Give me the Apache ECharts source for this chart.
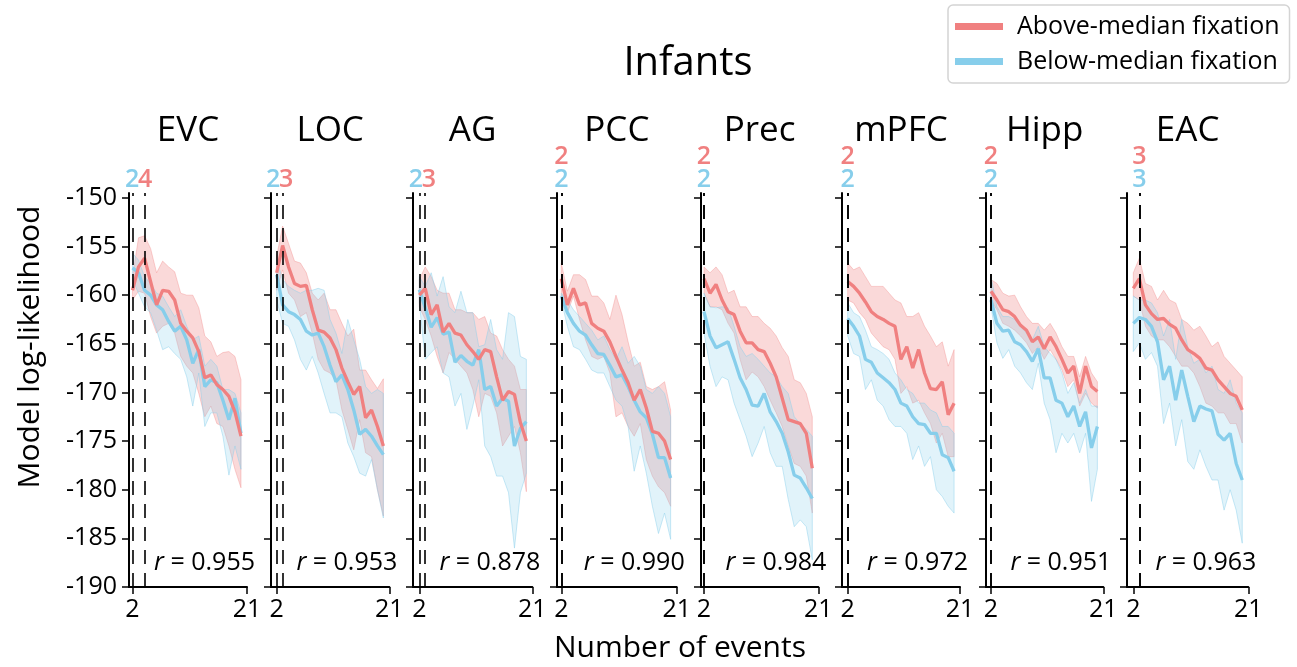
<!DOCTYPE html>
<html>
<head>
<meta charset="utf-8">
<script src="https://cdn.jsdelivr.net/npm/echarts@6/dist/echarts.min.js"></script>
<style>
html,body{margin:0;padding:0;background:#fff;}
#chart{width:1297px;height:667px;}
</style>
</head>
<body>
<div id="chart"></div>
<script>
// data
var regions = ['EVC', 'LOC', 'AG', 'PCC', 'Prec', 'mPFC', 'Hipp', 'EAC'];
var events = [2, 3, 4, 5, 6, 7, 8, 9, 10, 11, 12, 13, 14, 15, 16, 17, 18, 19, 20];
var rValues = ['0.955', '0.953', '0.878', '0.990', '0.984', '0.972', '0.951', '0.963'];
var bestAbove = [4, 3, 3, 2, 2, 2, 2, 3];
var bestBelow = [2, 2, 2, 2, 2, 2, 2, 3];
var xTicks = [2, 21];
var yTicks = [-190, -185, -180, -175, -170, -165, -160, -155, -150];

var aboveMean = [
  [-159.5,-157.1,-156.2,-158.6,-161.0,-159.5,-159.6,-160.5,-162.9,-163.7,-164.4,-165.8,-168.5,-168.2,-169.2,-169.7,-170.4,-172.0,-174.5],
  [-157.7,-154.9,-157.1,-158.8,-159.1,-159.0,-161.5,-163.6,-163.8,-164.4,-165.6,-167.5,-168.9,-170.2,-169.4,-172.6,-171.8,-173.5,-175.5],
  [-160.0,-159.3,-162.0,-161.0,-163.8,-162.9,-163.9,-164.1,-165.1,-165.8,-166.6,-165.6,-165.8,-168.4,-170.8,-169.9,-170.2,-173.1,-175.0],
  [-158.3,-161.0,-159.3,-161.0,-160.8,-162.9,-163.4,-163.7,-164.8,-166.3,-167.7,-169.0,-170.8,-169.7,-171.6,-174.0,-174.2,-175.0,-176.9],
  [-158.3,-159.8,-158.9,-160.5,-161.7,-162.0,-163.7,-164.9,-164.9,-165.6,-165.8,-167.0,-168.4,-170.6,-172.8,-173.0,-173.2,-174.2,-177.8],
  [-158.6,-159.1,-159.8,-160.7,-161.7,-162.2,-162.5,-162.9,-163.2,-166.6,-165.3,-167.5,-165.6,-168.0,-169.6,-169.7,-168.9,-172.3,-171.1],
  [-159.6,-160.5,-161.5,-161.7,-162.2,-163.1,-163.6,-164.8,-164.3,-165.5,-164.3,-165.3,-166.6,-168.0,-167.3,-170.1,-167.3,-169.4,-169.9],
  [-159.3,-158.3,-161.0,-161.9,-162.5,-162.4,-163.0,-163.4,-164.6,-165.6,-166.0,-166.5,-167.5,-167.7,-168.7,-169.4,-170.1,-170.4,-171.8]
];
var aboveHigh = [
  [-158.1,-154.1,-153.9,-155.2,-157.7,-156.5,-157.1,-157.6,-159.8,-160.0,-160.0,-161.3,-164.2,-164.8,-166.3,-165.9,-165.8,-166.3,-168.7],
  [-156.0,-152.9,-154.7,-156.5,-156.7,-157.7,-159.8,-160.5,-159.8,-161.5,-161.5,-162.9,-164.2,-163.5,-167.7,-167.7,-168.7,-169.6,-168.6],
  [-158.4,-157.1,-158.1,-159.5,-159.8,-159.8,-161.5,-161.5,-161.8,-161.8,-162.5,-162.2,-163.9,-164.2,-165.6,-166.6,-167.3,-169.7,-169.7],
  [-156.7,-159.6,-157.9,-157.9,-158.4,-160.1,-160.1,-160.8,-162.5,-160.0,-162.0,-164.8,-167.3,-166.9,-169.4,-169.7,-169.4,-168.9,-171.8],
  [-157.1,-157.7,-157.1,-157.9,-159.8,-159.5,-161.2,-161.2,-162.2,-162.2,-162.9,-163.4,-164.2,-165.4,-166.3,-168.7,-169.0,-170.1,-172.5],
  [-156.7,-157.4,-157.1,-158.1,-159.1,-159.1,-159.1,-159.8,-160.5,-160.8,-162.2,-162.2,-161.8,-163.2,-164.2,-165.3,-164.8,-167.3,-165.6],
  [-158.4,-158.8,-159.8,-160.1,-160.0,-161.2,-162.2,-162.9,-162.9,-163.6,-162.9,-163.9,-165.3,-166.3,-166.3,-168.4,-166.3,-168.0,-168.9],
  [-157.7,-156.2,-158.8,-159.1,-160.5,-159.5,-160.5,-160.8,-162.5,-162.9,-163.6,-163.2,-164.2,-165.3,-164.8,-166.3,-167.0,-167.7,-168.4]
];
var aboveLow = [
  [-160.5,-159.6,-159.8,-162.2,-163.9,-163.2,-162.9,-163.9,-166.3,-167.3,-168.0,-170.1,-172.5,-171.4,-173.2,-173.5,-175.5,-177.9,-179.8],
  [-159.5,-157.4,-159.8,-160.5,-162.2,-161.8,-163.9,-166.6,-167.7,-168.0,-168.7,-171.8,-173.8,-175.9,-172.8,-176.2,-176.6,-180.0,-182.7],
  [-161.2,-162.5,-164.2,-166.3,-168.0,-165.9,-166.6,-167.3,-168.0,-169.7,-172.5,-170.1,-170.4,-172.1,-175.5,-174.5,-173.5,-176.2,-180.2],
  [-160.1,-161.8,-160.1,-162.5,-164.6,-166.3,-166.6,-166.3,-168.0,-172.5,-172.1,-173.5,-174.5,-173.2,-176.9,-178.6,-179.7,-180.3,-181.7],
  [-159.8,-161.2,-161.2,-161.5,-162.9,-163.9,-166.6,-168.7,-167.9,-168.4,-169.4,-170.8,-172.1,-173.5,-175.5,-177.3,-177.6,-178.6,-182.4],
  [-160.5,-160.8,-161.8,-162.5,-163.9,-164.6,-165.3,-165.6,-166.6,-170.1,-169.4,-171.1,-170.8,-172.1,-173.2,-175.2,-174.2,-176.6,-176.6],
  [-160.5,-161.5,-162.9,-163.2,-163.6,-164.2,-164.9,-166.0,-165.3,-166.6,-165.6,-166.6,-167.7,-169.4,-168.7,-171.4,-170.1,-171.1,-171.6],
  [-160.1,-160.5,-163.2,-164.2,-164.6,-164.6,-165.3,-166.3,-167.3,-167.3,-168.0,-169.4,-171.1,-171.4,-172.1,-172.1,-173.2,-173.2,-175.2]
];
var belowMean = [
  [-157.2,-157.7,-159.5,-160.0,-161.0,-161.5,-162.7,-163.7,-163.2,-164.6,-167.0,-165.6,-169.4,-168.7,-169.0,-170.8,-172.8,-170.6,-174.2],
  [-157.9,-161.0,-161.7,-162.0,-162.5,-163.7,-164.1,-163.9,-165.3,-167.2,-168.9,-168.2,-169.7,-171.8,-174.3,-173.8,-174.5,-175.5,-176.4],
  [-159.45,-161.3,-163.3,-162.3,-164.0,-163.8,-166.9,-166.2,-166.8,-167.2,-165.6,-169.7,-169.4,-171.4,-170.6,-170.9,-175.5,-173.7,-173.0],
  [-160.1,-161.8,-162.9,-163.7,-164.1,-165.1,-166.0,-166.1,-167.2,-168.4,-168.2,-169.4,-170.8,-172.0,-172.6,-174.3,-176.7,-176.7,-178.8],
  [-161.7,-164.2,-165.4,-165.1,-164.8,-166.6,-168.5,-169.7,-171.3,-171.4,-170.1,-172.0,-173.0,-174.2,-176.1,-178.5,-178.8,-179.8,-180.9],
  [-162.4,-163.2,-164.2,-166.6,-166.9,-168.0,-168.5,-169.0,-169.7,-171.1,-171.4,-172.5,-173.2,-173.3,-174.2,-174.2,-176.4,-176.7,-178.1],
  [-160.5,-162.9,-163.7,-163.6,-164.8,-165.1,-165.8,-166.8,-165.5,-168.5,-168.5,-170.8,-171.1,-172.5,-171.4,-173.5,-172.0,-175.7,-173.5],
  [-162.9,-162.3,-162.5,-163.2,-164.8,-168.7,-167.3,-170.8,-167.7,-170.4,-173.0,-171.4,-171.7,-171.9,-174.3,-174.9,-174.2,-177.3,-179.0]
];
var belowHigh = [
  [-155.7,-156.4,-158.1,-158.8,-159.8,-160.1,-161.2,-162.2,-161.5,-163.2,-164.6,-164.2,-167.3,-166.6,-167.3,-169.7,-169.7,-170.1,-172.1],
  [-156.4,-158.4,-159.1,-159.5,-159.8,-159.5,-159.5,-159.3,-159.5,-162.5,-163.9,-166.0,-162.5,-164.6,-166.6,-169.4,-170.1,-169.7,-170.1],
  [-158.1,-159.1,-157.7,-160.1,-158.1,-161.2,-161.8,-159.6,-161.8,-161.8,-165.3,-165.1,-162.5,-165.6,-166.6,-161.8,-162.2,-166.3,-166.6],
  [-159.8,-160.5,-161.5,-162.2,-162.9,-163.6,-164.6,-164.2,-165.6,-166.6,-165.3,-167.0,-166.3,-167.3,-169.7,-170.1,-169.4,-170.1,-172.5],
  [-159.8,-161.2,-161.3,-161.2,-161.3,-163.2,-165.3,-166.3,-166.0,-166.6,-167.3,-168.0,-168.4,-169.4,-170.1,-172.5,-173.2,-173.8,-174.5],
  [-160.8,-161.8,-162.2,-163.6,-165.3,-165.6,-166.0,-166.6,-168.0,-168.7,-169.7,-170.1,-171.1,-171.1,-171.8,-172.1,-173.5,-173.5,-174.2],
  [-158.1,-161.2,-162.2,-162.2,-162.5,-163.2,-163.9,-164.6,-163.2,-165.3,-166.0,-166.6,-168.0,-170.1,-169.0,-171.1,-169.7,-171.4,-171.4],
  [-160.1,-160.5,-160.5,-160.8,-161.8,-164.2,-162.5,-166.6,-162.5,-165.3,-167.0,-166.6,-168.0,-167.3,-169.7,-170.1,-168.7,-171.1,-172.1]
];
var belowLow = [
  [-158.4,-159.8,-161.2,-161.8,-163.6,-165.6,-165.3,-166.0,-166.6,-168.4,-171.4,-168.0,-173.5,-172.1,-172.1,-174.5,-178.5,-175.5,-177.9],
  [-160.5,-162.9,-163.2,-164.6,-166.6,-167.7,-166.3,-168.0,-170.1,-172.1,-172.1,-172.5,-175.2,-176.6,-178.3,-178.6,-176.9,-180.0,-182.9],
  [-160.8,-166.6,-165.9,-165.3,-168.0,-168.4,-171.4,-170.1,-173.8,-171.4,-168.7,-175.5,-176.6,-178.6,-178.6,-180.3,-186.0,-180.3,-178.3],
  [-160.5,-163.2,-165.3,-165.6,-166.6,-167.7,-168.0,-168.0,-169.4,-170.8,-171.4,-173.5,-178.1,-175.5,-178.3,-181.7,-184.5,-182.4,-185.1],
  [-163.9,-167.3,-169.4,-168.4,-168.7,-171.1,-172.8,-174.5,-176.6,-175.2,-173.5,-176.2,-177.6,-177.6,-181.0,-183.8,-183.1,-183.8,-187.2],
  [-164.2,-166.0,-166.3,-169.7,-168.7,-170.8,-171.4,-172.8,-173.5,-173.5,-174.2,-176.9,-175.5,-177.6,-176.6,-180.0,-180.7,-181.7,-182.4],
  [-161.2,-164.9,-166.5,-165.6,-167.3,-168.0,-169.0,-169.7,-167.0,-171.1,-172.8,-176.2,-174.2,-175.2,-174.2,-176.2,-174.2,-181.2,-177.9],
  [-165.8,-164.9,-166.6,-165.9,-167.3,-173.2,-171.1,-175.5,-172.8,-177.1,-177.9,-175.9,-177.6,-179.0,-179.0,-182.1,-180.0,-182.1,-185.5]
];

// layout (pixels): left spine, x=2 tick, x=21 tick
var gridLeft = [129, 271, 413, 557, 701, 842, 986, 1127];
var tick2Px = [132.5, 276.7, 419.3, 561.3, 704, 847.7, 991, 1133.3];
var tick21Px = [247, 389.3, 532.3, 676.7, 818.3, 960, 1103.3, 1248.3];
var gridTop = 193, gridBottomPx = 587, yMax = -149.5;

var FONT = "'Open Sans', sans-serif";
var RED = '#f08080', BLUE = '#87ceeb';
var RED_FILL = 'rgba(240,128,128,0.3)', BLUE_FILL = 'rgba(135,206,235,0.25)';
var RED_EDGE = 'rgba(240,128,128,0.35)', BLUE_EDGE = 'rgba(135,206,235,0.45)';

var chart = echarts.init(document.getElementById('chart'));

function pairs(arr) {
    return events.map(function (x, k) { return [x, arr[k]]; });
}

// one polygon per band: upper edge forward, lower edge back
function bandSeries(i, lo, hi, fill, edge) {
    return {
        type: 'custom', xAxisIndex: i, yAxisIndex: i, silent: true,
        data: events.map(function (x, k) { return [x, lo[k], hi[k]]; }),
        encode: {x: 0, y: [1, 2]},
        renderItem: function (params, api) {
            if (params.dataIndex !== 0) return null;
            var pts = [];
            for (var k = 0; k < events.length; k++) pts.push(api.coord([events[k], hi[k]]));
            for (var k2 = events.length - 1; k2 >= 0; k2--) pts.push(api.coord([events[k2], lo[k2]]));
            return {type: 'polygon', shape: {points: pts}, style: {fill: fill, stroke: edge, lineWidth: 1}};
        }
    };
}

var grids = [], xAxes = [], yAxes = [], series = [], graphics = [];

graphics.push({type: 'text', x: 688, y: 64, style: {text: 'Infants', fontSize: 40, fontFamily: FONT, fill: '#000',
    align: 'center', verticalAlign: 'middle', textAlign: 'center', textVerticalAlign: 'middle'}});
graphics.push({type: 'text', x: 680, y: 648, style: {text: 'Number of events', fontSize: 30, fontFamily: FONT, fill: '#000',
    align: 'center', verticalAlign: 'middle', textAlign: 'center', textVerticalAlign: 'middle'}});
graphics.push({type: 'text', x: 30, y: 347, rotation: Math.PI / 2, style: {text: 'Model log-likelihood', fontSize: 30, fontFamily: FONT, fill: '#000',
    align: 'center', verticalAlign: 'middle', textAlign: 'center', textVerticalAlign: 'middle'}});

for (var i = 0; i < regions.length; i++) {
    var pxPerUnit = (tick21Px[i] - tick2Px[i]) / 19;
    var xMin = 2 - (tick2Px[i] - gridLeft[i]) / pxPerUnit;
    grids.push({left: gridLeft[i], top: gridTop, width: tick21Px[i] - gridLeft[i], height: gridBottomPx - gridTop});
    xAxes.push({
        gridIndex: i, type: 'value', min: xMin, max: 21,
        axisLine: {show: true, onZero: false, lineStyle: {color: '#000', width: 2}},
        axisTick: {show: true, customValues: xTicks, length: 7, lineStyle: {color: '#000', width: 1.5}},
        axisLabel: {show: true, customValues: xTicks, fontSize: 25, fontFamily: FONT, color: '#000', margin: 10},
        splitLine: {show: false}
    });
    yAxes.push({
        gridIndex: i, type: 'value', min: -190, max: yMax,
        axisLine: {show: true, onZero: false, lineStyle: {color: '#000', width: 2}},
        axisTick: {show: true, customValues: yTicks, length: 7, lineStyle: {color: '#000', width: 1.5}},
        axisLabel: {show: i === 0, customValues: yTicks, fontSize: 25, fontFamily: FONT, color: '#000', margin: 12},
        splitLine: {show: false}
    });

    series.push(bandSeries(i, aboveLow[i], aboveHigh[i], RED_FILL, RED_EDGE));
    series.push(bandSeries(i, belowLow[i], belowHigh[i], BLUE_FILL, BLUE_EDGE));

    // label offsets for the optimal-event markers
    var dPx = Math.abs(bestAbove[i] - bestBelow[i]) * pxPerUnit;
    var offBlue = [0, 0], offRed = [0, 0];
    if (bestAbove[i] === bestBelow[i]) {
        offRed = [0, -23];
    } else if (dPx < 13) {
        offBlue = [-(13 - dPx) / 2, 0];
        offRed = [(13 - dPx) / 2, 0];
    }

    [[belowMean[i], BLUE, 'Below-median fixation', bestBelow[i], offBlue],
     [aboveMean[i], RED, 'Above-median fixation', bestAbove[i], offRed]].forEach(function (s) {
        series.push({
            name: s[2], type: 'line', xAxisIndex: i, yAxisIndex: i,
            data: pairs(s[0]), symbol: 'none', showSymbol: false,
            itemStyle: {color: s[1]},
            lineStyle: {color: s[1], width: 3.3},
            markLine: {
                silent: true, symbol: ['none', 'none'], animation: false,
                lineStyle: {color: '#000', type: [14, 9], width: 1.6},
                label: {show: true, position: 'end', formatter: String(s[3]), color: s[1],
                    fontSize: 25, fontWeight: 600, fontFamily: FONT, distance: 1, offset: s[4]},
                emphasis: {disabled: true},
                data: [{xAxis: s[3]}]
            }
        });
    });

    graphics.push({type: 'text', x: (gridLeft[i] + tick21Px[i]) / 2, y: 131, style: {text: regions[i], fontSize: 35, fontFamily: FONT, fill: '#000',
        align: 'center', verticalAlign: 'middle', textAlign: 'center', textVerticalAlign: 'middle'}});
    graphics.push({type: 'text', x: tick21Px[i] + 8, y: 563, style: {
        text: '{i|r} = ' + rValues[i], fontSize: 25, fontFamily: FONT, fill: '#000',
        rich: {i: {fontStyle: 'italic', fontSize: 25, fontFamily: FONT, fill: '#000', color: '#000'}},
        align: 'right', verticalAlign: 'middle', textAlign: 'right', textVerticalAlign: 'middle'}});
}

var option = {
    animation: false,
    backgroundColor: '#fff',
    legend: {
        data: ['Above-median fixation', 'Below-median fixation'],
        orient: 'vertical', left: 948, top: 5,
        padding: [9, 10, 9, 7], itemGap: 10,
        itemWidth: 48, itemHeight: 7, icon: 'rect',
        borderColor: '#d4d4d4', borderWidth: 1.5, borderRadius: 5, backgroundColor: '#fff',
        textStyle: {fontSize: 25, fontFamily: FONT, color: '#000', padding: [0, 0, 0, 9]},
        selectedMode: false
    },
    grid: grids,
    xAxis: xAxes,
    yAxis: yAxes,
    series: series,
    graphic: graphics
};
chart.setOption(option);
</script>
</body>
</html>
